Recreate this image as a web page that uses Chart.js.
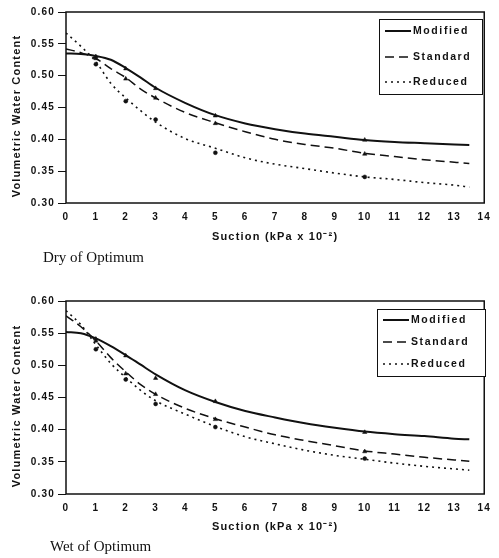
<!DOCTYPE html>
<html>
<head>
<meta charset="utf-8">
<script src="https://cdn.jsdelivr.net/npm/chart.js@4.4.1/dist/chart.umd.min.js"></script>
<style>
  html, body { margin: 0; padding: 0; background: #fff; }
  body { width: 499px; height: 558px; position: relative; overflow: hidden; }
  .panel { position: absolute; left: 0; width: 499px; height: 250px; }
  .caption { position: absolute; font-family: 'Liberation Serif', 'Times New Roman', serif; font-size: 15px; color: #111; line-height: 1; }
</style>
</head>
<body>
<div class="panel" style="top:0"><canvas id="dryChart"></canvas></div>
<div class="caption" style="left:43px;top:250px">Dry of Optimum</div>
<div class="panel" style="top:290px"><canvas id="wetChart"></canvas></div>
<div class="caption" style="left:50px;top:539px">Wet of Optimum</div>
<script>
// fitted curves (suction in kPa x 10^-2)
const curveSuction = [0, 0.5, 1, 1.5, 2, 2.5, 3, 4, 5, 6, 7, 8, 9, 10, 11, 12, 13, 13.5];
const dryModified = [0.535, 0.534, 0.531, 0.525, 0.512, 0.497, 0.481, 0.457, 0.438, 0.425, 0.416, 0.409, 0.404, 0.399, 0.396, 0.394, 0.392, 0.391];
const dryStandard = [0.542, 0.536, 0.527, 0.511, 0.497, 0.479, 0.465, 0.442, 0.426, 0.412, 0.400, 0.392, 0.386, 0.378, 0.373, 0.368, 0.364, 0.362];
const dryReduced = [0.567, 0.546, 0.522, 0.488, 0.465, 0.445, 0.427, 0.401, 0.386, 0.371, 0.361, 0.354, 0.347, 0.341, 0.337, 0.332, 0.328, 0.325];
const wetModified = [0.552, 0.550, 0.542, 0.530, 0.516, 0.501, 0.486, 0.461, 0.443, 0.429, 0.419, 0.410, 0.403, 0.397, 0.393, 0.390, 0.386, 0.385];
const wetStandard = [0.577, 0.560, 0.538, 0.512, 0.490, 0.470, 0.455, 0.433, 0.417, 0.404, 0.392, 0.383, 0.375, 0.367, 0.362, 0.357, 0.353, 0.351];
const wetReduced = [0.585, 0.563, 0.532, 0.503, 0.481, 0.461, 0.445, 0.424, 0.405, 0.389, 0.378, 0.368, 0.360, 0.354, 0.348, 0.343, 0.339, 0.337];

// measured points
const testSuction = [1, 2, 3, 5, 10];
const dryModifiedPts = [0.530, 0.511, 0.480, 0.437, 0.399];
const dryStandardPts = [0.527, 0.495, 0.465, 0.425, 0.377];
const dryReducedPts = [0.518, 0.460, 0.431, 0.379, 0.341];
const wetModifiedPts = [0.541, 0.515, 0.480, 0.444, 0.396];
const wetStandardPts = [0.538, 0.487, 0.455, 0.416, 0.366];
const wetReducedPts = [0.525, 0.478, 0.440, 0.404, 0.355];

const seriesNames = ['Modified', 'Standard', 'Reduced'];
const yTicks = [0.30, 0.35, 0.40, 0.45, 0.50, 0.55, 0.60];

const INK = '#111';
Chart.defaults.font.family = '"Liberation Sans", Arial, sans-serif';
Chart.defaults.color = INK;

const toXY = (xs, ys) => xs.map((x, i) => ({ x: x, y: ys[i] }));

const lineStyles = [
  { borderWidth: 2, borderDash: [] },
  { borderWidth: 1.5, borderDash: [9, 5] },
  { borderWidth: 1.6, borderDash: [2, 4] },
];
const markerStyles = [
  { pointStyle: 'triangle', pointRadius: 2.5 },
  { pointStyle: 'triangle', pointRadius: 2.5 },
  { pointStyle: 'circle', pointRadius: 2 },
];

const tracking = {
  id: 'tracking',
  beforeUpdate(chart) { chart.ctx.letterSpacing = '1.2px'; },
  beforeDraw(chart) { chart.ctx.letterSpacing = '1.2px'; },
};

const frame = {
  id: 'frame',
  afterDatasetsDraw(chart) {
    const { ctx, chartArea: a } = chart;
    ctx.save();
    ctx.strokeStyle = INK;
    ctx.lineWidth = 1.5;
    ctx.strokeRect(a.left, a.top, a.right - a.left, a.bottom - a.top);
    ctx.restore();
  },
};

const boxLegend = {
  id: 'boxLegend',
  afterDraw(chart, args, opts) {
    const ctx = chart.ctx;
    ctx.save();
    ctx.fillStyle = '#fff';
    ctx.fillRect(opts.x, opts.y, opts.w, opts.h);
    ctx.lineWidth = 1;
    ctx.strokeStyle = INK;
    ctx.strokeRect(opts.x + 0.5, opts.y + 0.5, opts.w, opts.h);
    ctx.letterSpacing = '1.6px';
    ctx.font = 'bold 10.5px "Liberation Sans", Arial, sans-serif';
    ctx.textBaseline = 'middle';
    ctx.fillStyle = INK;
    chart.data.datasets.filter(d => d.showLine).forEach((d, i) => {
      const y = opts.rows[i];
      ctx.beginPath();
      ctx.setLineDash(d.borderDash);
      ctx.lineWidth = d.borderWidth;
      ctx.strokeStyle = INK;
      ctx.moveTo(opts.x + 6, y);
      ctx.lineTo(opts.x + 32, y);
      ctx.stroke();
      ctx.setLineDash([]);
      ctx.fillText(d.label, opts.x + 34, y);
    });
    ctx.restore();
  },
};

function makeChart(id, curves, pts, geom) {
  const datasets = [];
  curves.forEach((ys, i) => {
    datasets.push(Object.assign({
      label: seriesNames[i],
      data: toXY(curveSuction, ys),
      borderColor: INK,
      showLine: true,
      pointRadius: 0,
      cubicInterpolationMode: 'monotone',
    }, lineStyles[i]));
  });
  pts.forEach((ys, i) => {
    datasets.push(Object.assign({
      label: '',
      data: toXY(testSuction, ys),
      showLine: false,
      pointBackgroundColor: INK,
      pointBorderColor: INK,
      pointBorderWidth: 0.5,
    }, markerStyles[i]));
  });

  return new Chart(document.getElementById(id), {
    type: 'line',
    data: { datasets: datasets },
    options: {
      responsive: true,
      maintainAspectRatio: false,
      animation: false,
      devicePixelRatio: 1,
      layout: { padding: { top: geom.top, right: 7, bottom: 0, left: 0 } },
      plugins: {
        legend: { display: false },
        tooltip: { enabled: false },
        boxLegend: geom.legend,
      },
      scales: {
        x: {
          type: 'linear',
          min: 0,
          max: 14,
          ticks: { stepSize: 1, padding: 8, color: INK, font: { size: 10, weight: 'bold' } },
          grid: { drawOnChartArea: false, drawTicks: false },
          border: { display: false },
          title: {
            display: true,
            text: 'Suction (kPa x 10\u207B\u00B2)',
            color: INK,
            font: { size: 11, weight: 'bold' },
            padding: { top: 0, bottom: 6 },
          },
          afterFit(s) { s.height = geom.xAxisH; },
        },
        y: {
          min: yTicks[0],
          max: yTicks[yTicks.length - 1],
          afterBuildTicks(s) { s.ticks = yTicks.map(v => ({ value: v })); },
          ticks: { padding: 3, color: INK, font: { size: 10, weight: 'bold' }, callback: v => v.toFixed(2) },
          grid: { drawOnChartArea: false, tickLength: 8, color: INK },
          border: { display: false },
          title: {
            display: true,
            // trailing spaces nudge the rotated title down, as in the original
            text: 'Volumetric Water Content    ',
            color: INK,
            font: { size: 11, weight: 'bold' },
            padding: { top: 10, bottom: 0 },
          },
          afterFit(s) { s.width = 66; },
        },
      },
    },
    plugins: [tracking, frame, boxLegend],
  });
}

makeChart('dryChart', [dryModified, dryStandard, dryReduced], [dryModifiedPts, dryStandardPts, dryReducedPts], {
  top: 12,
  xAxisH: 47,
  legend: { x: 379, y: 19, w: 103, h: 75, rows: [31, 57, 82] },
});

makeChart('wetChart', [wetModified, wetStandard, wetReduced], [wetModifiedPts, wetStandardPts, wetReducedPts], {
  top: 11,
  xAxisH: 46,
  legend: { x: 377, y: 19, w: 108, h: 67, rows: [30, 52, 74] },
});
</script>
</body>
</html>
